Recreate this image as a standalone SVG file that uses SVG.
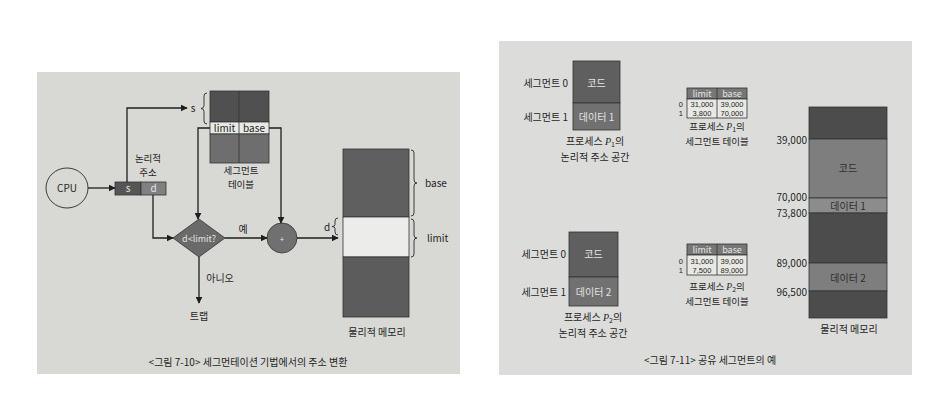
<svg xmlns="http://www.w3.org/2000/svg" width="945" height="409" viewBox="0 0 945 409">
<defs>
<marker id="arr" viewBox="0 0 10 10" refX="9" refY="5" markerWidth="7" markerHeight="7" markerUnits="userSpaceOnUse" orient="auto">
<path d="M0,0 L10,5 L0,10 Z" fill="#1e1e1e"/>
</marker>
<style>
text{font-family:"Noto Sans CJK KR","Noto Sans",sans-serif;fill:#262626;font-size:10px}
.c{text-anchor:middle}
.e{text-anchor:end}
.lt{fill:#e4e4e0}
.sm{font-size:9.5px}
.ln{fill:none;stroke:#1e1e1e;stroke-width:1.3}
.lnA{fill:none;stroke:#1e1e1e;stroke-width:1.3;marker-end:url(#arr)}
.br{fill:none;stroke:#2a2a2a;stroke-width:0.9}
.bx{stroke:#333;stroke-width:0.8}
.num{font-family:"Liberation Sans Narrow","Liberation Sans",sans-serif;font-size:7.5px}
.it{font-family:"Liberation Serif",serif;font-style:italic}
</style>
</defs>
<rect x="0" y="0" width="945" height="409" fill="#ffffff"/>
<rect x="37" y="72" width="423" height="302" fill="#d8d8d4"/>
<rect x="499" y="41" width="413" height="334" fill="#dcddda"/>

<!-- LEFT FIGURE 7-10 -->
<g id="cpu">
<ellipse cx="67" cy="188" rx="21" ry="20" fill="none" stroke="#2a2a2a" stroke-width="0.9"/>
<text x="67" y="192" class="c">CPU</text>
</g>
<g id="logical-address">
<rect x="115" y="182" width="26" height="13" fill="#555555" class="bx"/>
<rect x="141" y="182" width="25" height="13" fill="#808080" class="bx"/>
<text x="128" y="192" class="c lt">s</text>
<text x="153.5" y="192" class="c lt">d</text>
<text x="148" y="162" class="c sm">논리적</text>
<text x="148" y="176" class="c sm">주소</text>
</g>
<g id="segment-table">
<rect x="210" y="91" width="59" height="31" fill="#505050" class="bx"/>
<rect x="210" y="122" width="59" height="12" fill="#e8e8e4" class="bx"/>
<rect x="210" y="134" width="59" height="29" fill="#6e6e6e" class="bx"/>
<line x1="239" y1="91" x2="239" y2="163" stroke="#333" stroke-width="0.8"/>
<text x="224.5" y="131.5" class="c">limit</text>
<text x="254" y="131.5" class="c">base</text>
<text x="241" y="173.5" class="c sm">세그먼트</text>
<text x="241" y="187.5" class="c sm">테이블</text>
<text x="193" y="112" class="c">s</text>
<path class="br" d="M207,93 q-3,0 -3,3 v9.5 q0,3 -3,3 q3,0 3,3 v9.5 q0,3 3,3"/>
</g>
<g id="check">
<polygon points="199,219 225,238 199,257 173,238" fill="#6a6a6a" stroke="#333" stroke-width="0.8"/>
<text x="199" y="241.5" class="c lt" style="font-size:9px">d&lt;limit?</text>
</g>
<g id="adder">
<circle cx="282" cy="238" r="15" fill="#707070" stroke="#333" stroke-width="0.8"/>
<text x="282" y="241.5" class="c lt" style="font-size:8px">+</text>
</g>
<g id="trap">
<text x="199" y="320" class="c">트랩</text>
</g>
<g id="physical-memory-1">
<rect x="343" y="149" width="66" height="68" fill="#5f5f5f" class="bx"/>
<rect x="343" y="217" width="66" height="40" fill="#ececea" class="bx"/>
<rect x="343" y="257" width="66" height="60" fill="#5c5c5c" class="bx"/>
<path class="br" d="M411,150 q3,0 3,3 v27 q0,3 3,3 q-3,0 -3,3 v27 q0,3 -3,3"/>
<text x="425" y="187">base</text>
<path class="br" d="M411,219 q3,0 3,3 v13 q0,3 3,3 q-3,0 -3,3 v13 q0,3 -3,3"/>
<text x="427" y="242">limit</text>
<path class="br" d="M338,218 q-3,0 -3,3 v3.5 q0,2 -3,2 q3,0 3,2 v3.5 q0,3 3,3"/>
<text x="327" y="231" class="c">d</text>
<text x="377" y="336" class="c">물리적 메모리</text>
</g>
<g id="connectors-1">
<line class="lnA" x1="88" y1="188" x2="115" y2="188"/>
<polyline class="lnA" points="127,182 127,108 187,108"/>
<polyline class="lnA" points="210,128 198,128 198,219"/>
<polyline class="lnA" points="269,128 281,128 281,223"/>
<polyline class="lnA" points="153,195 153,238 173,238"/>
<line class="lnA" x1="225" y1="238" x2="267" y2="238"/>
<line class="lnA" x1="297" y1="238" x2="338" y2="238"/>
<line class="lnA" x1="199" y1="257" x2="199" y2="303"/>
<text x="243" y="233" class="c">예</text>
<text x="220" y="282" class="c">아니오</text>
</g>
<text x="248" y="366" class="c">&lt;그림 7-10&gt; 세그먼테이션 기법에서의 주소 변환</text>

<!-- RIGHT FIGURE 7-11 -->
<g id="p1-space">
<rect x="573" y="61" width="47" height="42" fill="#5f5f5f" class="bx"/>
<rect x="573" y="103" width="47" height="27" fill="#717171" class="bx"/>
<text x="596.5" y="87" class="c lt">코드</text>
<text x="596.5" y="121" class="c lt">데이터 1</text>
<text x="568" y="87" class="e">세그먼트 0</text>
<text x="568" y="121" class="e">세그먼트 1</text>
<text x="595" y="145" class="c">프로세스 <tspan class="it">P</tspan><tspan dy="2" style="font-size:7px">1</tspan><tspan dy="-2">의</tspan></text>
<text x="595" y="161" class="c">논리적 주소 공간</text>
</g>
<g id="p1-table">
<rect x="687" y="88" width="60" height="11" fill="#777777" class="bx"/>
<rect x="687" y="99" width="60" height="19" fill="#e8e8e4" class="bx"/>
<line x1="717" y1="88" x2="717" y2="118" stroke="#333" stroke-width="0.8"/>
<text x="702" y="96.5" class="c lt" style="font-size:9px">limit</text>
<text x="732" y="96.5" class="c lt" style="font-size:9px">base</text>
<text x="702" y="106.5" class="c num">31,000</text>
<text x="702" y="115.5" class="c num">3,800</text>
<text x="732" y="106.5" class="c num">39,000</text>
<text x="732" y="115.5" class="c num">70,000</text>
<text x="683" y="106.5" class="e num">0</text>
<text x="683" y="115.5" class="e num">1</text>
<text x="717" y="130" class="c sm">프로세스 <tspan class="it">P</tspan><tspan dy="2" style="font-size:7px">1</tspan><tspan dy="-2">의</tspan></text>
<text x="717" y="145" class="c sm">세그먼트 테이블</text>
</g>
<g id="p2-space">
<rect x="569" y="232" width="49" height="45" fill="#5f5f5f" class="bx"/>
<rect x="569" y="277" width="49" height="29" fill="#717171" class="bx"/>
<text x="593.5" y="258" class="c lt">코드</text>
<text x="593.5" y="296" class="c lt">데이터 2</text>
<text x="566" y="258" class="e">세그먼트 0</text>
<text x="566" y="296" class="e">세그먼트 1</text>
<text x="593" y="321" class="c">프로세스 <tspan class="it">P</tspan><tspan dy="2" style="font-size:7px">2</tspan><tspan dy="-2">의</tspan></text>
<text x="593" y="337" class="c">논리적 주소 공간</text>
</g>
<g id="p2-table">
<rect x="687" y="244" width="60" height="11" fill="#777777" class="bx"/>
<rect x="687" y="255" width="60" height="20" fill="#e8e8e4" class="bx"/>
<line x1="717" y1="244" x2="717" y2="275" stroke="#333" stroke-width="0.8"/>
<text x="702" y="252.5" class="c lt" style="font-size:9px">limit</text>
<text x="732" y="252.5" class="c lt" style="font-size:9px">base</text>
<text x="702" y="263.5" class="c num">31,000</text>
<text x="702" y="272.5" class="c num">7,500</text>
<text x="732" y="263.5" class="c num">39,000</text>
<text x="732" y="272.5" class="c num">89,000</text>
<text x="683" y="263.5" class="e num">0</text>
<text x="683" y="272.5" class="e num">1</text>
<text x="717" y="290" class="c sm">프로세스 <tspan class="it">P</tspan><tspan dy="2" style="font-size:7px">2</tspan><tspan dy="-2">의</tspan></text>
<text x="717" y="305" class="c sm">세그먼트 테이블</text>
</g>
<g id="physical-memory-2">
<rect x="809" y="107" width="78" height="32" fill="#4c4c4c" class="bx"/>
<rect x="809" y="139" width="78" height="59" fill="#7e7e7e" class="bx"/>
<rect x="809" y="198" width="78" height="15" fill="#8c8c8c" class="bx"/>
<rect x="809" y="213" width="78" height="50" fill="#4c4c4c" class="bx"/>
<rect x="809" y="263" width="78" height="28" fill="#7e7e7e" class="bx"/>
<rect x="809" y="291" width="78" height="27" fill="#4c4c4c" class="bx"/>
<text x="848" y="172" class="c" style="fill:#2e2e2e">코드</text>
<text x="848" y="209.5" class="c" style="fill:#2e2e2e">데이터 1</text>
<text x="848" y="281.5" class="c" style="fill:#2e2e2e">데이터 2</text>
<text x="807" y="144" class="e">39,000</text>
<text x="807" y="201" class="e">70,000</text>
<text x="807" y="217" class="e">73,800</text>
<text x="807" y="267" class="e">89,000</text>
<text x="807" y="296" class="e">96,500</text>
<text x="849" y="333" class="c">물리적 메모리</text>
</g>
<text x="710" y="364" class="c">&lt;그림 7-11&gt; 공유 세그먼트의 예</text>
</svg>
